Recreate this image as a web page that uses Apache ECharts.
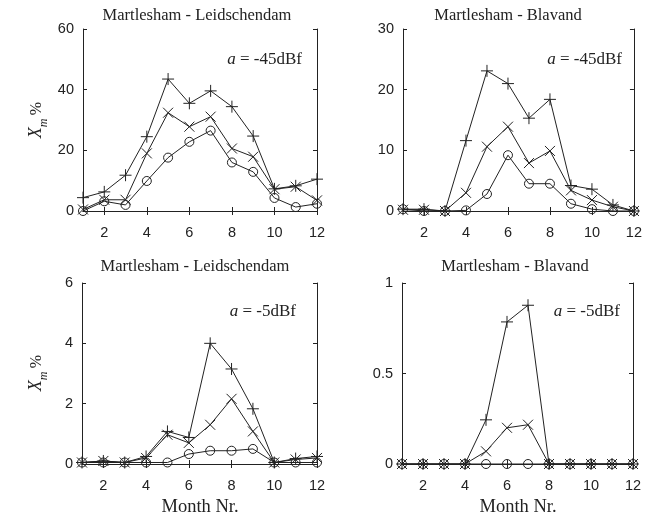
<!DOCTYPE html>
<html>
<head>
<meta charset="utf-8">
<title>Martlesham link statistics</title>
<script src="https://cdn.jsdelivr.net/npm/echarts@6/dist/echarts.min.js"></script>
<style>
  html, body { margin: 0; padding: 0; background: #fff; }
  #chart { width: 645px; height: 521px; }
</style>
</head>
<body>
<div id="chart"></div>
<script>
// Months 1..12
const months = [1, 2, 3, 4, 5, 6, 7, 8, 9, 10, 11, 12];
const monthTicks = [2, 4, 6, 8, 10, 12];

// Martlesham - Leidschendam, a = -45dBf
const leid45Plus   = [4.4, 6.3, 11.8, 24.5, 43.5, 35.5, 39.6, 34.4, 24.7, 7.3, 8.3, 10.5];
const leid45Cross  = [0.5, 3.7, 3.7, 19.0, 32.4, 27.8, 31.1, 20.6, 17.9, 7.2, 8.0, 3.5];
const leid45Circle = [0.0, 3.2, 2.0, 9.9, 17.6, 22.8, 26.5, 16.0, 12.9, 4.3, 1.3, 2.4];

// Martlesham - Blavand, a = -45dBf
const blav45Plus   = [0.3, 0.3, 0.0, 11.6, 23.1, 21.0, 15.3, 18.4, 4.2, 3.6, 1.0, 0.0];
const blav45Cross  = [0.2, 0.2, 0.0, 3.0, 10.6, 13.9, 7.9, 9.9, 3.4, 1.8, 0.7, 0.0];
const blav45Circle = [0.3, 0.0, 0.0, 0.1, 2.8, 9.2, 4.5, 4.5, 1.2, 0.3, 0.0, 0.0];

// Martlesham - Leidschendam, a = -5dBf
const leid5Plus   = [0.05, 0.1, 0.05, 0.25, 1.08, 0.88, 4.0, 3.15, 1.83, 0.05, 0.18, 0.25];
const leid5Cross  = [0.05, 0.1, 0.05, 0.2, 0.97, 0.7, 1.3, 2.16, 1.08, 0.05, 0.15, 0.2];
const leid5Circle = [0.05, 0.05, 0.05, 0.05, 0.05, 0.33, 0.44, 0.44, 0.5, 0.05, 0.05, 0.05];

// Martlesham - Blavand, a = -5dBf
const blav5Plus   = [0, 0, 0, 0, 0.244, 0.785, 0.877, 0, 0, 0, 0, 0];
const blav5Cross  = [0, 0, 0, 0, 0.07, 0.2, 0.217, 0, 0, 0, 0, 0];
const blav5Circle = [0, 0, 0, 0, 0, 0, 0, 0, 0, 0, 0, 0];

// Panel texts and y-axis ranges
const panelTitles = ['Martlesham - Leidschendam', 'Martlesham - Blavand', 'Martlesham - Leidschendam', 'Martlesham - Blavand'];
const panelLevels = ['-45dBf', '-45dBf', '-5dBf', '-5dBf'];
const yMax = [60, 30, 6, 1];
const yStep = [20, 10, 2, 0.5];
const xName = 'Month Nr.';

const panelData = [
  [leid45Plus, leid45Cross, leid45Circle],
  [blav45Plus, blav45Cross, blav45Circle],
  [leid5Plus, leid5Cross, leid5Circle],
  [blav5Plus, blav5Cross, blav5Circle]
];

const ink = '#222';
const grids = [
  { left: 83, top: 29, width: 234, height: 182 },
  { left: 403, top: 29, width: 233, height: 182 },
  { left: 82, top: 283, width: 235, height: 181 },
  { left: 402, top: 283, width: 231, height: 181 }
];

const markerSymbols = [
  { symbol: 'path://M0,5 L10,5 M5,0 L5,10', size: 12 },
  { symbol: 'path://M0,0 L10,10 M10,0 L0,10', size: 10 },
  { symbol: 'circle', size: 9 }
];

const xAxes = [], yAxes = [], series = [];
grids.forEach((g, i) => {
  const baseX = {
    type: 'value', gridIndex: i, min: 1, max: 12,
    axisLine: { show: true, lineStyle: { color: ink, width: 1 } },
    splitLine: { show: false }
  };
  xAxes.push(Object.assign({}, baseX, {
    position: 'bottom',
    axisTick: { show: true, inside: true, length: 4, lineStyle: { color: ink }, customValues: monthTicks },
    axisLabel: { show: true, customValues: monthTicks, color: ink, fontFamily: 'Liberation Sans', fontSize: 14.5, margin: 14 }
  }));
  xAxes.push(Object.assign({}, baseX, {
    position: 'top',
    axisTick: { show: true, inside: true, length: 4, lineStyle: { color: ink }, customValues: monthTicks },
    axisLabel: { show: false }
  }));
  const baseY = {
    type: 'value', gridIndex: i, min: 0, max: yMax[i], interval: yStep[i],
    axisLine: { show: true, lineStyle: { color: ink, width: 1 } },
    splitLine: { show: false },
    axisTick: { show: true, inside: true, length: 4, lineStyle: { color: ink } }
  };
  yAxes.push(Object.assign({}, baseY, {
    position: 'left',
    axisLabel: { show: true, color: ink, fontFamily: 'Liberation Sans', fontSize: 14.5, margin: 9 }
  }));
  yAxes.push(Object.assign({}, baseY, {
    position: 'right',
    axisLabel: { show: false }
  }));

  panelData[i].forEach((vals, k) => {
    series.push({
      type: 'line',
      xAxisIndex: i * 2,
      yAxisIndex: i * 2,
      data: months.map((m, j) => [m, vals[j]]),
      symbol: markerSymbols[k].symbol,
      symbolSize: markerSymbols[k].size,
      showSymbol: true,
      clip: false,
      animation: false,
      lineStyle: { color: ink, width: 1 },
      itemStyle: { color: 'rgba(0,0,0,0)', borderColor: ink, borderWidth: 1 },
      emphasis: { disabled: true }
    });
  });
});

const titlePos = [[197, 16], [508, 16], [195, 267], [515, 267]];
const levelPos = [[302, 60], [622, 60], [296, 312], [620, 312]];
const graphics = [];
titlePos.forEach((p, i) => {
  graphics.push({
    type: 'text', x: p[0], y: p[1],
    style: { text: panelTitles[i], fill: ink, font: '16.5px "Liberation Serif"', align: 'center', verticalAlign: 'middle' }
  });
  graphics.push({
    type: 'text', x: levelPos[i][0], y: levelPos[i][1],
    style: {
      text: '{a|a} = ' + panelLevels[i],
      fill: ink, font: '17px "Liberation Serif"', align: 'right', verticalAlign: 'middle',
      rich: { a: { fontStyle: 'italic', fontFamily: 'Liberation Serif', fontSize: 17, fill: ink } }
    }
  });
});
// y-axis name on the left-hand panels
[[33, 120], [33, 373]].forEach(p => {
  graphics.push({
    type: 'text', x: p[0], y: p[1], rotation: Math.PI / 2,
    style: {
      text: '{x|X}{m|m} {p|%}',
      fill: ink, align: 'center', verticalAlign: 'middle',
      rich: {
        x: { fontStyle: 'italic', fontFamily: 'Liberation Serif', fontSize: 18, fill: ink, verticalAlign: 'bottom', lineHeight: 20 },
        m: { fontStyle: 'italic', fontFamily: 'Liberation Serif', fontSize: 12, fill: ink, verticalAlign: 'bottom', lineHeight: 14, padding: [0, 0, -5, 0] },
        p: { fontFamily: 'Liberation Serif', fontSize: 16, fill: ink, verticalAlign: 'bottom', lineHeight: 24 }
      }
    }
  });
});
// x-axis name below the lower panels
[[200, 507], [518, 507]].forEach(p => {
  graphics.push({
    type: 'text', x: p[0], y: p[1],
    style: { text: xName, fill: ink, font: '18.5px "Liberation Serif"', align: 'center', verticalAlign: 'middle' }
  });
});

const chart = echarts.init(document.getElementById('chart'), null, { renderer: 'canvas' });
chart.setOption({
  backgroundColor: '#fff',
  animation: false,
  grid: grids,
  xAxis: xAxes,
  yAxis: yAxes,
  series: series,
  graphic: graphics
});
</script>
</body>
</html>
